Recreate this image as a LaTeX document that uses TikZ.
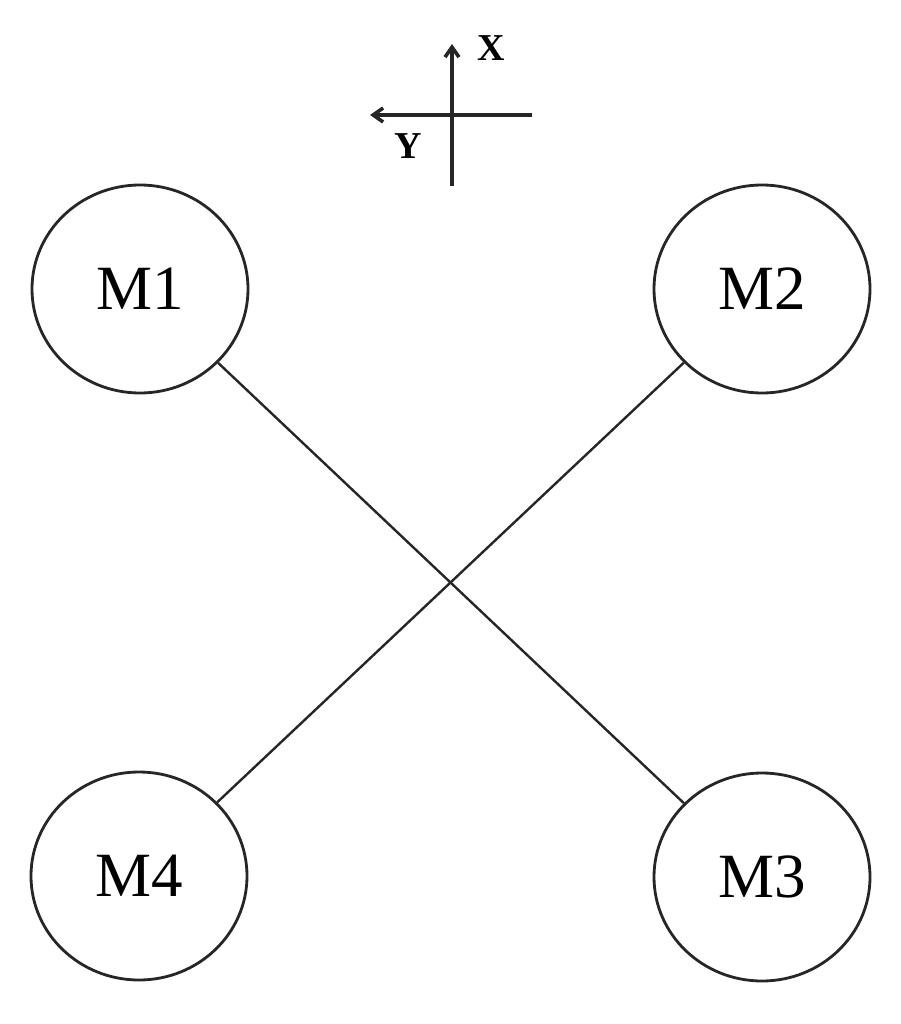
\documentclass[tikz,border=0pt]{standalone}
\usepackage{fontspec}
\setmainfont{Liberation Serif}
\usetikzlibrary{shapes.geometric,arrows.meta}
\begin{document}
\begin{tikzpicture}[x=1pt,y=-1pt,
  mnode/.style={draw=black!85, line width=2.8pt, ellipse, minimum width=216pt, minimum height=208pt, inner sep=0pt, font=\fontsize{63}{70}\selectfont},
  link/.style={draw=black!85, line width=2.4pt},
  axis/.style={draw=black!85, line width=3.6pt},
  axlab/.style={font=\bfseries\fontsize{38}{40}\selectfont, inner sep=0pt}]
\useasboundingbox (0,0) rectangle (901,1024);
\node[mnode] (m1) at (140,289) {M1};
\node[mnode] (m2) at (762,289) {M2};
\node[mnode] (m3) at (762,877) {M3};
\node[mnode] (m4) at (139,876) {M4};
\draw[link] (m1) -- (m3);
\draw[link] (m2) -- (m4);
\coordinate (vtop) at (452,44);
\coordinate (vbot) at (452,186);
\coordinate (hl) at (370,115);
\coordinate (hr) at (532,115);
\draw[axis, -{Straight Barb[length=10pt,width=14pt]}] (vbot) -- (vtop);
\draw[axis, -{Straight Barb[length=10pt,width=14pt]}] (hr) -- (hl);
\node[axlab] (xl) at (491,48) {X};
\node[axlab] (yl) at (408,146) {Y};
\end{tikzpicture}
\end{document}
